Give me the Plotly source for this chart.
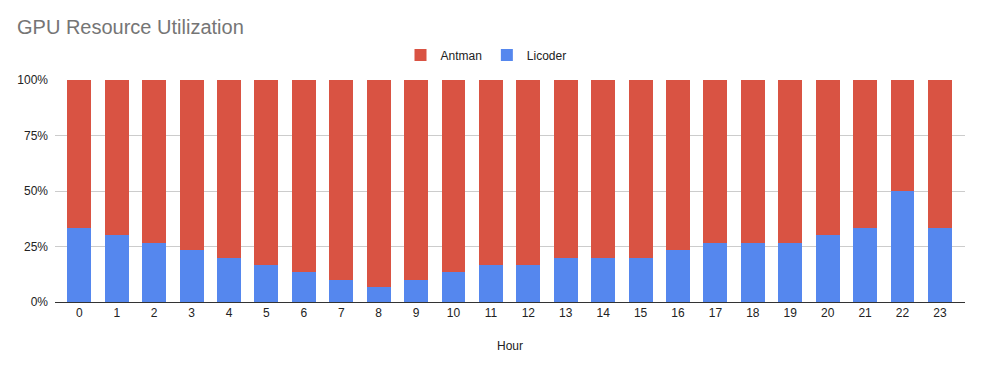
import plotly.graph_objects as go

hours = [str(h) for h in range(24)]
licoder_pct = [33.3, 30.0, 26.7, 23.3, 20.0, 16.7, 13.3, 10.0, 6.7, 10.0, 13.3, 16.7,
               16.7, 20.0, 20.0, 20.0, 23.3, 26.7, 26.7, 26.7, 30.0, 33.3, 50.0, 33.3]
antman_pct = [100 - v for v in licoder_pct]
y_ticks = [0, 25, 50, 75, 100]
y_tick_labels = ["0%", "25%", "50%", "75%", "100%"]

fig = go.Figure()
fig.add_trace(go.Bar(x=hours, y=licoder_pct, name="Licoder", marker=dict(color="#5587EE", line=dict(width=0))))
fig.add_trace(go.Bar(x=hours, y=antman_pct, name="Antman", marker=dict(color="#D95343", line=dict(width=0))))

fig.update_layout(
    width=983, height=369,
    barmode="stack", bargap=0.36,
    plot_bgcolor="white", paper_bgcolor="white",
    font=dict(family="Liberation Sans, Arial, sans-serif", size=12, color="#222222"),
    margin=dict(l=55, r=18, t=80, b=67, autoexpand=False),
    title=dict(text="GPU Resource Utilization", x=17/983, xref="container", xanchor="left",
               y=1-27/369, yref="container", yanchor="middle",
               font=dict(size=20, color="#757575")),
    legend=dict(orientation="h", xref="container", x=486/983, xanchor="center",
                yref="container", y=1-55/369, yanchor="middle", traceorder="reversed",
                itemwidth=30, font=dict(size=12, color="#222222")),
    xaxis=dict(type="category", range=[-0.65, 23.67], showgrid=False, ticks="",
               showline=True, linecolor="#333333", linewidth=1, automargin=False,
               title=dict(text="Hour", standoff=22, font=dict(size=12))),
    yaxis=dict(range=[0, 100], tickvals=y_ticks, ticktext=y_tick_labels,
               showgrid=True, gridcolor="#cccccc", zeroline=False, ticks="",
               ticklabelstandoff=6, automargin=False),
    hovermode=False,
)
fig.write_html("out.html", config={"displayModeBar": False},
               post_script="document.body.style.margin='0';")
